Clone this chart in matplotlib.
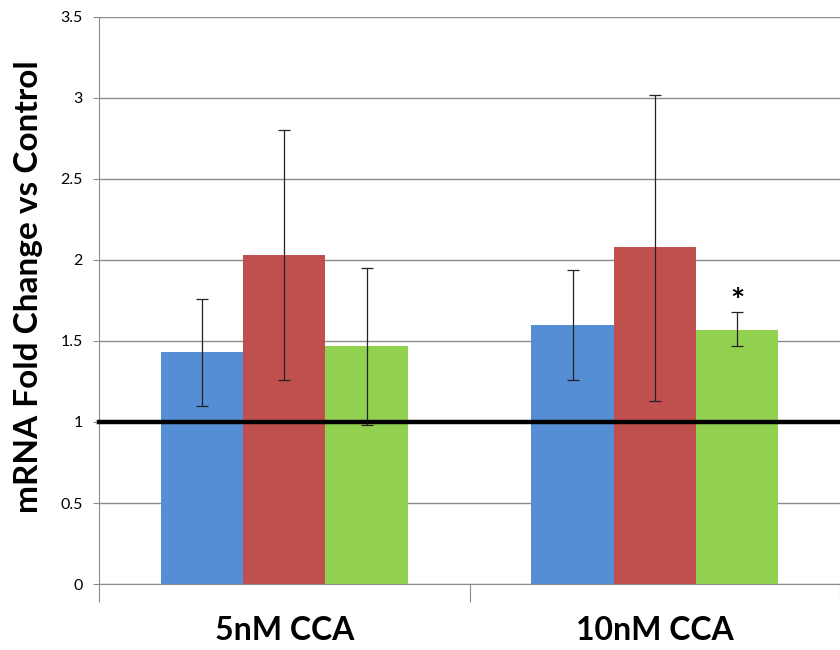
import matplotlib
matplotlib.use("Agg")
import matplotlib.pyplot as plt
import numpy as np

plt.rcParams['font.family'] = ['Lato', 'DejaVu Sans']

categories = ["5nM CCA", "10nM CCA"]
colors = ["#558ED5", "#C0504D", "#92D050"]

# bar heights per series (blue, red, green), one value per category
means = [
    [1.43, 1.60],
    [2.03, 2.08],
    [1.47, 1.57],
]
# error bar ends
err_low = [
    [1.10, 1.26],
    [1.26, 1.13],
    [0.98, 1.47],
]
err_high = [
    [1.76, 1.94],
    [2.80, 3.02],
    [1.95, 1.68],
]

fig = plt.figure(figsize=(8.4, 6.5), dpi=100)
ax = fig.add_axes([0.118, 0.1015, 0.882, 0.8725])

centers = np.arange(len(categories)) + 0.5
width = 0.222

for i in range(3):
    xs = centers + (i - 1) * width
    m = np.array(means[i])
    lo = m - np.array(err_low[i])
    hi = np.array(err_high[i]) - m
    ax.bar(xs, m, width=width, color=colors[i], zorder=2)
    ax.errorbar(xs, m, yerr=[lo, hi], fmt="none", ecolor="#222222",
                elinewidth=0.9, capsize=4, capthick=0.9, zorder=3)

# significance mark above the green bar of 10nM
ax.text(centers[1] + width, err_high[2][1] + 0.06, "*", ha="center",
        va="center", fontsize=24, fontweight="bold", zorder=4)

# control reference line
ax.axhline(1, color="black", lw=3.2, zorder=4, clip_on=False)

ax.set_xlim(0, 2)
ax.set_ylim(0, 3.5)
ax.set_yticks(np.arange(0, 3.51, 0.5))
ax.set_yticklabels(["0", "0.5", "1", "1.5", "2", "2.5", "3", "3.5"])
ax.yaxis.grid(True, color="#8c8c8c", lw=1, zorder=0)
ax.set_axisbelow(True)

ax.set_xticks([0, 1, 2])
ax.set_xticklabels([])
ax.set_xticks(centers, minor=True)
ax.set_xticklabels(categories, minor=True, fontsize=23, fontweight="bold")
ax.tick_params(axis="x", which="major", length=13, color="#8c8c8c")
ax.tick_params(axis="x", which="minor", length=0, pad=23)
ax.tick_params(axis="y", length=4, color="#8c8c8c", labelsize=11.5, pad=8)

for s in ["top", "right"]:
    ax.spines[s].set_visible(False)
for s in ["left", "bottom"]:
    ax.spines[s].set_color("#8c8c8c")

ax.set_ylabel("mRNA Fold Change vs Control", fontsize=24, fontweight="bold")
ax.yaxis.set_label_coords(-0.076, 0.525)

fig.savefig("out.png", dpi=100)
